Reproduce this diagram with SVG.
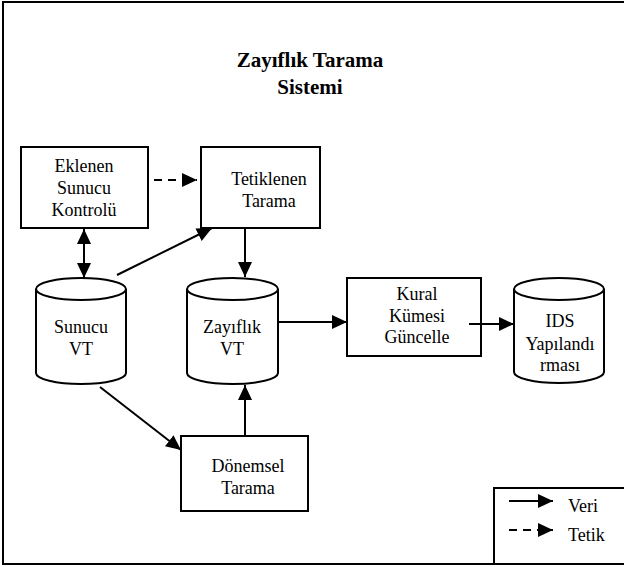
<svg xmlns="http://www.w3.org/2000/svg" width="624" height="567" viewBox="0 0 624 567" font-family="Liberation Serif">
  <defs>
    <marker id="head" markerUnits="userSpaceOnUse" markerWidth="16" markerHeight="16" refX="15" refY="8" orient="auto-start-reverse">
      <path d="M0,1 L15,8 L0,15 z" fill="#000"/>
    </marker>
  </defs>

  <rect width="624" height="567" fill="#fff"/>
  <!-- outer frame -->
  <rect x="3" y="2" width="640" height="562" fill="none" stroke="#000" stroke-width="2"/>

  <g id="title" font-size="21" font-weight="bold" text-anchor="middle">
    <text x="310" y="67">Zayıflık Tarama</text>
    <text x="310" y="94">Sistemi</text>
  </g>

  <!-- node shapes share white fill and 2px black outline -->
  <g fill="#fff" stroke="#000" stroke-width="2">
    <g id="eklenen">
      <rect x="21" y="147" width="127" height="81"/>
      <text x="84" y="172" fill="#000" stroke="none" font-size="18" text-anchor="middle">Eklenen</text>
      <text x="84" y="194" fill="#000" stroke="none" font-size="18" text-anchor="middle">Sunucu</text>
      <text x="84" y="216" fill="#000" stroke="none" font-size="18" text-anchor="middle">Kontrolü</text>
    </g>

    <g id="tetiklenen">
      <rect x="201" y="147" width="119" height="81"/>
      <text x="269" y="185" fill="#000" stroke="none" font-size="18" text-anchor="middle">Tetiklenen</text>
      <text x="269" y="207" fill="#000" stroke="none" font-size="18" text-anchor="middle">Tarama</text>
    </g>

    <g id="sunucu-vt">
      <path d="M36,289 V373 A45,11 0 0 0 126,373 V289"/>
      <ellipse cx="81" cy="289" rx="45" ry="11"/>
      <text x="81" y="333" fill="#000" stroke="none" font-size="18" text-anchor="middle">Sunucu</text>
      <text x="81" y="355" fill="#000" stroke="none" font-size="18" text-anchor="middle">VT</text>
    </g>

    <g id="zayiflik-vt">
      <path d="M187,289 V373 A45.5,11 0 0 0 278,373 V289"/>
      <ellipse cx="232.5" cy="289" rx="45.5" ry="11"/>
      <text x="232" y="333" fill="#000" stroke="none" font-size="18" text-anchor="middle">Zayıflık</text>
      <text x="232" y="355" fill="#000" stroke="none" font-size="18" text-anchor="middle">VT</text>
    </g>

    <g id="kural">
      <rect x="347" y="278" width="134" height="78"/>
      <text x="417" y="300" fill="#000" stroke="none" font-size="18" text-anchor="middle">Kural</text>
      <text x="417" y="322" fill="#000" stroke="none" font-size="18" text-anchor="middle">Kümesi</text>
      <text x="417" y="343" fill="#000" stroke="none" font-size="18" text-anchor="middle">Güncelle</text>
    </g>

    <g id="ids">
      <path d="M514,289 V372 A45,11 0 0 0 604,372 V289"/>
      <ellipse cx="559" cy="289" rx="45" ry="11"/>
      <text x="560" y="327" fill="#000" stroke="none" font-size="18" text-anchor="middle">IDS</text>
      <text x="560" y="350" fill="#000" stroke="none" font-size="18" text-anchor="middle">Yapılandı</text>
      <text x="560" y="371" fill="#000" stroke="none" font-size="18" text-anchor="middle">rması</text>
    </g>

    <g id="donemsel">
      <rect x="181" y="436" width="127" height="75"/>
      <text x="248" y="472" fill="#000" stroke="none" font-size="18" text-anchor="middle">Dönemsel</text>
      <text x="248" y="494" fill="#000" stroke="none" font-size="18" text-anchor="middle">Tarama</text>
    </g>

    <g id="legend">
      <rect x="494" y="488" width="140" height="76"/>
      <line x1="509" y1="501" x2="553" y2="501" marker-end="url(#head)"/>
      <text x="568" y="512" fill="#000" stroke="none" font-size="18">Veri</text>
      <line x1="509" y1="530" x2="553" y2="530" stroke-dasharray="8 6" marker-end="url(#head)"/>
      <text x="568" y="541" fill="#000" stroke="none" font-size="18">Tetik</text>
    </g>
  </g>

  <g id="connectors" fill="none" stroke="#000" stroke-width="2" marker-end="url(#head)">
    <line x1="154" y1="180" x2="197" y2="180" stroke-dasharray="8 6"/>
    <line x1="84" y1="229" x2="84" y2="278" marker-start="url(#head)"/>
    <line x1="117" y1="275" x2="212" y2="228"/>
    <line x1="245" y1="228" x2="245" y2="277"/>
    <line x1="278" y1="322" x2="347" y2="322"/>
    <line x1="469" y1="324" x2="514" y2="324"/>
    <line x1="100" y1="387" x2="181" y2="450"/>
    <line x1="245" y1="436" x2="245" y2="385"/>
  </g>
</svg>
